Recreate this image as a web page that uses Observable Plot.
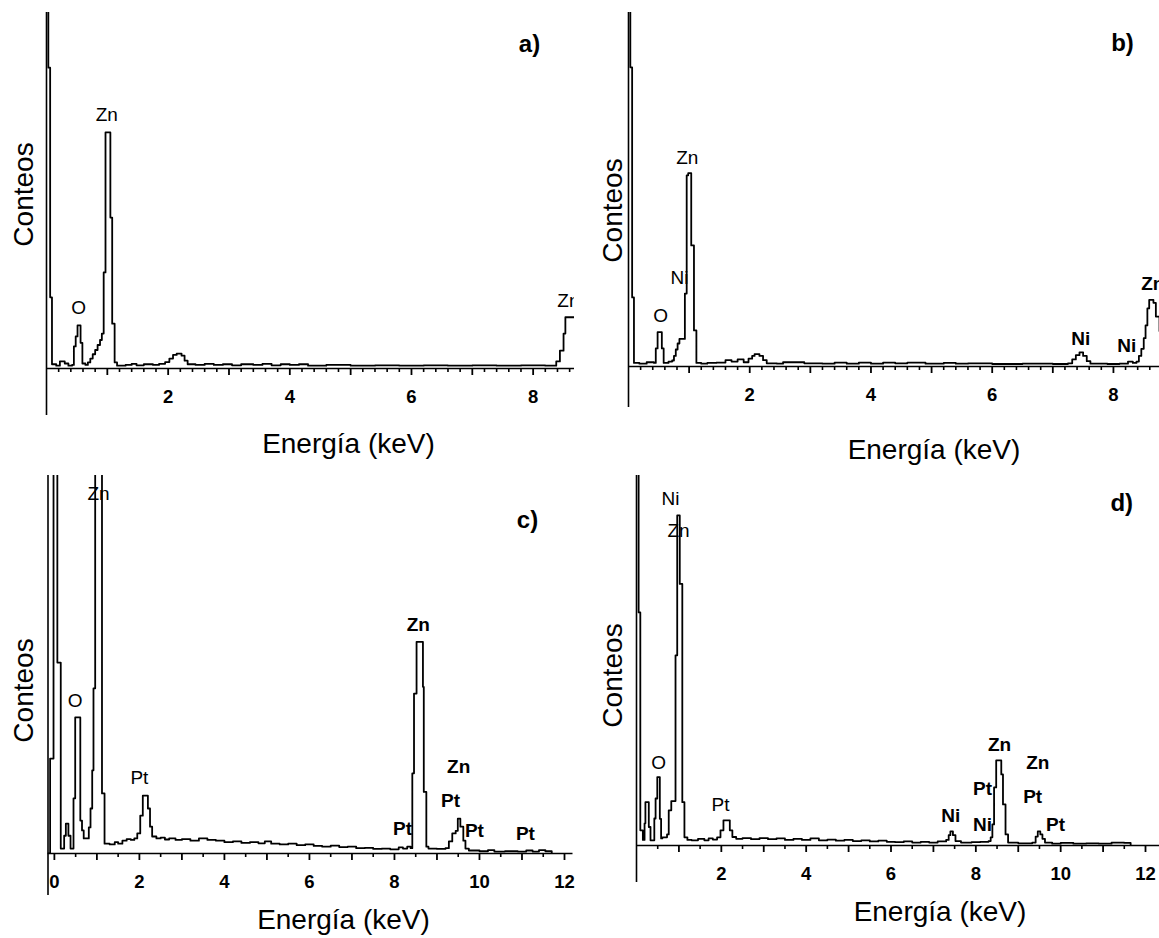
<!DOCTYPE html>
<html>
<head>
<meta charset="utf-8">
<script src="https://cdn.jsdelivr.net/npm/d3@7"></script>
<script src="https://cdn.jsdelivr.net/npm/@observablehq/plot@0.6"></script>
<style>
  html, body { margin: 0; padding: 0; background: #fff; }
  #wrap { position: relative; width: 1159px; height: 938px; overflow: hidden; background: #fff; }
  .panel { position: absolute; }
</style>
</head>
<body>
<div id="wrap"></div>
<script>
// ---------- DATA (energy in keV, counts in arbitrary units; 1000 = top of frame) ----------
const spectrumA = [
  [0.00,1300],[0.03,845],[0.06,200],[0.09,12],[0.16,8],[0.22,20],[0.30,14],[0.36,8],[0.42,10],
  [0.45,62],[0.48,90],[0.51,121],[0.56,72],[0.59,14],[0.64,10],[0.68,17],[0.72,28],[0.76,40],
  [0.80,52],[0.84,66],[0.88,80],[0.91,98],[0.94,270],[0.97,663],[1.05,424],[1.08,126],[1.12,17],
  [1.16,8],[1.30,10],[1.40,13],[1.48,9],[1.60,12],[1.75,10],[1.85,13],[1.95,18],[2.02,28],
  [2.08,38],[2.14,42],[2.22,36],[2.27,22],[2.32,12],[2.45,10],[2.60,13],[2.75,10],[2.90,12],
  [3.05,9],[3.20,12],[3.40,10],[3.55,13],[3.70,9],[3.85,12],[4.00,10],[4.15,12],[4.30,8],
  [4.60,10],[5.00,8],[5.40,9],[5.80,8],[6.20,9],[6.60,8],[7.00,9],[7.40,8],[7.80,9],[8.20,8],
  [8.38,20],[8.44,50],[8.50,98],[8.53,144],[8.75,144]
];
const spectrumB = [
  [0.00,1300],[0.03,845],[0.06,195],[0.09,10],[0.18,8],[0.30,12],[0.42,10],[0.45,51],[0.48,97],
  [0.55,51],[0.58,10],[0.66,14],[0.72,17],[0.75,30],[0.78,48],[0.81,65],[0.84,78],[0.93,206],
  [0.96,540],[0.985,546],[1.035,342],[1.08,102],[1.12,10],[1.20,8],[1.30,10],[1.45,11],[1.60,18],
  [1.70,14],[1.80,20],[1.90,12],[1.98,22],[2.04,30],[2.08,35],[2.16,30],[2.22,18],[2.28,9],
  [2.45,8],[2.55,12],[2.90,9],[3.20,8],[3.40,11],[3.60,8],[3.80,11],[4.00,8],[4.20,11],[4.40,9],
  [4.60,11],[4.90,8],[5.20,10],[5.40,8],[5.60,9],[6.00,7],[6.50,8],[7.00,7],[7.25,9],[7.32,20],
  [7.38,32],[7.44,40],[7.50,30],[7.56,15],[7.62,8],[7.90,7],[8.10,8],[8.24,14],[8.32,10],
  [8.38,14],[8.42,30],[8.46,50],[8.50,80],[8.53,116],[8.56,164],[8.59,188],[8.66,180],[8.70,141],
  [8.76,100]
];
const spectrumC = [
  [-0.14,0],[-0.10,251],[-0.02,1300],[0.07,505],[0.15,13],[0.23,47],[0.27,79],[0.33,47],[0.38,13],
  [0.45,146],[0.49,360],[0.61,87],[0.65,61],[0.69,40],[0.81,69],[0.85,119],[0.89,220],[0.92,437],
  [0.96,1300],[1.12,159],[1.18,26],[1.30,24],[1.42,30],[1.50,26],[1.60,34],[1.70,38],[1.80,36],
  [1.88,40],[1.95,53],[2.02,100],[2.08,153],[2.20,119],[2.25,71],[2.30,45],[2.40,40],[2.50,42],
  [2.60,37],[2.70,40],[2.85,36],[3.00,38],[3.20,34],[3.40,40],[3.60,36],[3.80,34],[4.00,30],
  [4.20,32],[4.40,28],[4.60,30],[4.80,27],[4.95,32],[5.10,26],[5.30,24],[5.50,26],[5.70,22],
  [5.90,24],[6.10,20],[6.30,18],[6.50,21],[6.70,17],[6.90,18],[7.10,14],[7.30,15],[7.50,12],
  [7.70,13],[7.90,11],[8.10,16],[8.20,13],[8.30,18],[8.38,14],[8.42,212],[8.46,423],[8.52,560],
  [8.67,441],[8.69,163],[8.75,18],[8.80,13],[9.00,12],[9.20,14],[9.28,32],[9.36,53],[9.44,60],
  [9.49,92],[9.55,71],[9.62,34],[9.67,13],[9.75,8],[10.0,6],[10.2,9],[10.35,5],[10.6,6],
  [10.9,5],[11.1,8],[11.25,5],[11.4,9],[11.55,6],[11.7,0]
];
const spectrumD = [
  [0.00,1300],[0.05,630],[0.09,41],[0.15,15],[0.19,60],[0.21,117],[0.29,50],[0.33,14],[0.42,73],
  [0.45,127],[0.49,185],[0.55,72],[0.58,19],[0.61,22],[0.72,30],[0.76,95],[0.82,120],[0.92,514],
  [0.96,892],[1.02,707],[1.08,117],[1.13,22],[1.20,15],[1.30,14],[1.45,18],[1.60,14],[1.70,19],
  [1.80,16],[1.90,22],[1.98,41],[2.05,68],[2.20,41],[2.26,23],[2.35,18],[2.50,20],[2.70,17],
  [2.90,20],[3.10,17],[3.30,19],[3.50,15],[3.70,18],[3.90,15],[4.10,19],[4.30,14],[4.50,16],
  [4.70,13],[4.90,15],[5.10,12],[5.30,14],[5.50,11],[5.70,13],[5.90,10],[6.10,9],[6.30,11],
  [6.50,8],[6.70,10],[6.90,8],[7.10,11],[7.30,15],[7.36,28],[7.40,38],[7.46,28],[7.52,12],
  [7.65,8],[7.90,9],[8.10,10],[8.30,12],[8.35,22],[8.39,57],[8.43,157],[8.48,230],[8.60,192],
  [8.64,111],[8.70,30],[8.76,8],[9.00,6],[9.33,8],[9.41,24],[9.46,38],[9.52,30],[9.57,18],
  [9.63,8],[9.80,5],[10.0,7],[10.3,5],[10.6,6],[10.9,5],[11.2,8],[11.5,7],[11.65,0]
];

// peak labels: [text, keV, counts, weight]
const labelsA = [["Zn",0.99,711,"normal"],["O",0.53,169,"normal"],["Zn",8.58,191,"normal"]];
const labelsB = [["Zn",0.97,588,"normal"],["Ni",0.84,249,"normal"],["O",0.53,144,"normal"],
  ["Ni",7.46,79,"bold"],["Ni",8.22,59,"bold"],["Zn",8.65,234,"bold"]];
const labelsC = [["Zn",1.04,952,"normal"],["O",0.49,405,"normal"],["Pt",2.0,201,"normal"],
  ["Zn",8.56,606,"bold"],["Zn",9.51,228,"bold"],["Pt",9.32,138,"bold"],["Pt",8.19,64,"bold"],
  ["Pt",9.88,61,"bold"],["Pt",11.08,53,"bold"]];
const labelsD = [["Ni",0.80,938,"normal"],["Zn",0.99,849,"normal"],["O",0.52,224,"normal"],
  ["Pt",1.98,111,"normal"],["Ni",7.41,81,"bold"],["Ni",8.16,57,"bold"],["Pt",8.16,154,"bold"],
  ["Zn",8.56,273,"bold"],["Zn",9.46,222,"bold"],["Pt",9.34,130,"bold"],["Pt",9.88,57,"bold"]];

// panel letters: [text, keV, counts]
const letterA = [["a)",7.94,910]];
const letterB = [["b)",8.15,912]];
const letterC = [["c)",11.13,881]];
const letterD = [["d)",11.44,924]];

// tick labels
const tickLabelsA = [2,4,6,8];
const tickLabelsB = [2,4,6,8];
const tickLabelsC = [0,2,4,6,8,10,12];
const tickLabelsD = [2,4,6,8,10,12];

const xTitle = "Energía (keV)";
const yTitle = "Conteos";

// ---------- LAYOUT ----------
const panels = [
  {spec: spectrumA, labels: labelsA, letter: letterA, tickLabels: tickLabelsA,
   left: 0, top: 0, width: 580, height: 470, mL: 46, mR: 6, frameTop: 12, baseline: 368,
   xDomain: [0, 8.68], step: 0.2, axisExt: 47, yT: [-22, 4], xT: [38, 76]},
  {spec: spectrumB, labels: labelsB, letter: letterB, tickLabels: tickLabelsB,
   left: 580, top: 0, width: 579, height: 470, mL: 48, mR: 0, frameTop: 12, baseline: 366,
   xDomain: [0, 8.76], step: 0.2, axisExt: 41, yT: [-15, 21], xT: [40, 84]},
  {spec: spectrumC, labels: labelsC, letter: letterC, tickLabels: tickLabelsC,
   left: 0, top: 460, width: 580, height: 478, mL: 47.5, mR: 7.5, frameTop: 15, baseline: 393,
   xDomain: [-0.15, 12.2], step: 0.5, axisExt: 42, yT: [-23.5, 26], xT: [33, 67]},
  {spec: spectrumD, labels: labelsD, letter: letterD, tickLabels: tickLabelsD,
   left: 580, top: 460, width: 579, height: 478, mL: 56, mR: 0, frameTop: 15, baseline: 385,
   xDomain: [0, 12.33], step: 0.5, axisExt: 37, yT: [-23, 15], xT: [42, 67]}
];

const FONT = "'Liberation Sans', Arial, Helvetica, sans-serif";
const wrap = document.getElementById("wrap");

for (const p of panels) {
  const H = p.baseline - p.frameTop;
  const toUnits = px => px * 1000 / H;
  const [x0, x1] = p.xDomain;
  const isInt = v => Math.abs(v - Math.round(v)) < 1e-6;
  const all = d3.range(Math.ceil(x0 / p.step) * p.step, x1 + 1e-9, p.step).map(v => +v.toFixed(3));
  const minor = all.filter(v => !isInt(v));
  const major = all.filter(v => isInt(v) && v > x0 + 1e-6);

  const chart = Plot.plot({
    width: p.width,
    height: p.height,
    marginLeft: p.mL,
    marginRight: p.mR,
    marginTop: p.frameTop,
    marginBottom: p.height - p.baseline,
    x: {domain: p.xDomain},
    y: {domain: [0, 1000], axis: null},
    style: {fontFamily: FONT, color: "black", background: "transparent"},
    marks: [
      Plot.axisX(minor, {anchor: "bottom", tickSize: 4, strokeWidth: 1.6, tickFormat: () => "", label: null}),
      Plot.axisX(major, {anchor: "bottom", tickSize: 7, strokeWidth: 1.8, tickFormat: () => "", label: null}),
      Plot.axisX(p.tickLabels, {anchor: "bottom", tickSize: 0, tickPadding: 21, fontSize: 18.5,
        fontWeight: "bold", tickFormat: d => String(d), label: null}),
      Plot.ruleY([0], {stroke: "black", strokeWidth: 1.6}),
      Plot.ruleX([x0], {y1: -toUnits(p.axisExt), y2: 1000, stroke: "black", strokeWidth: 1.6}),
      Plot.text(p.labels, {filter: d => d[3] === "normal", x: d => d[1], y: d => d[2], text: d => d[0],
        fontSize: 19, fill: "black", clip: true}),
      Plot.text(p.labels, {filter: d => d[3] === "bold", x: d => d[1], y: d => d[2], text: d => d[0],
        fontSize: 19, fontWeight: "bold", fill: "black", clip: true}),
      Plot.line(p.spec, {x: d => d[0], y: d => d[1], curve: "step-after", stroke: "black",
        strokeWidth: 1.8, clip: true}),
      Plot.text(p.letter, {x: d => d[1], y: d => d[2], text: d => d[0], fontSize: 24,
        fontWeight: "bold", fill: "black"}),
      Plot.text([yTitle], {frameAnchor: "left", dx: p.yT[0], dy: p.yT[1], rotate: -90,
        textAnchor: "middle", lineAnchor: "middle", fontSize: 28, fill: "black"}),
      Plot.text([xTitle], {frameAnchor: "bottom", dx: p.xT[0], dy: p.xT[1],
        textAnchor: "middle", lineAnchor: "middle", fontSize: 28, fill: "black"})
    ]
  });
  const holder = document.createElement("div");
  holder.className = "panel";
  holder.style.left = p.left + "px";
  holder.style.top = p.top + "px";
  holder.appendChild(chart);
  wrap.appendChild(holder);
}
</script>
</body>
</html>
